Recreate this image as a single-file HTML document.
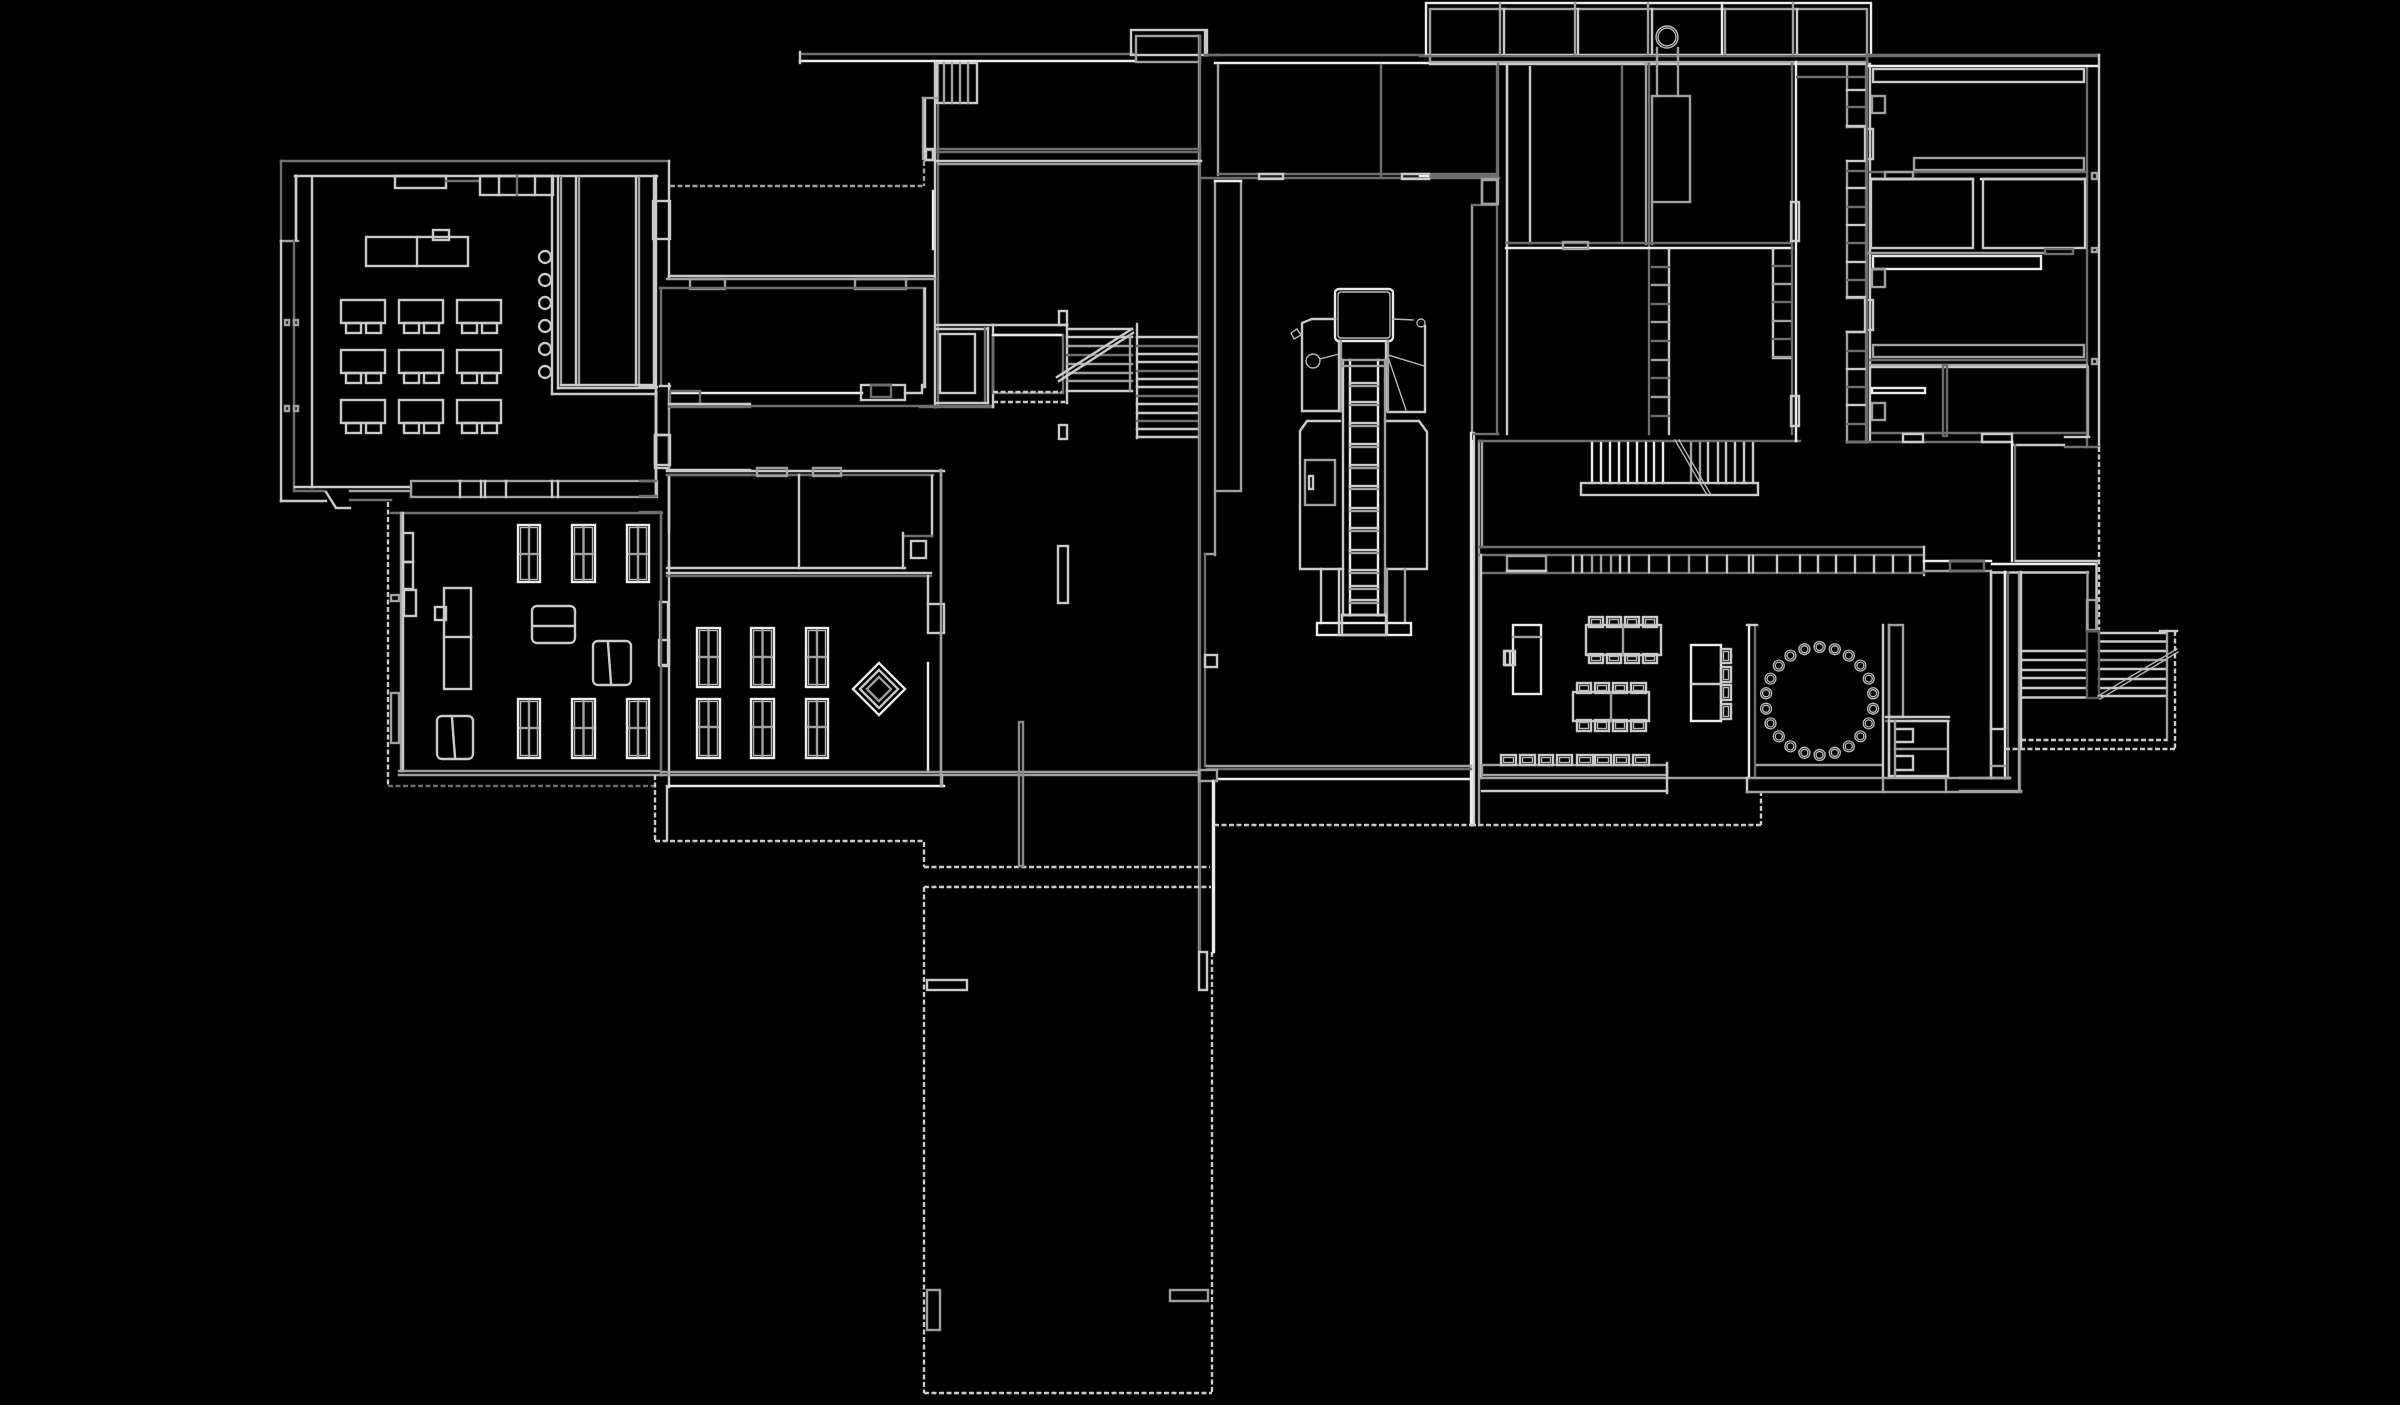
<!DOCTYPE html>
<html><head><meta charset="utf-8"><style>
html,body{margin:0;padding:0;background:#000;width:2400px;height:1405px;overflow:hidden}
svg{display:block}
line,polyline,polygon,rect,circle{fill:none;stroke-width:2.4;stroke-linecap:square}
.l{stroke:#cacaca}
.d{stroke:#6e6e6e}
.m{stroke:#a0a0a0}
.w{stroke:#ececec}
.t{stroke:#b8b8b8;stroke-width:1.4}
.dash{stroke-dasharray:5 2.5;stroke-linecap:butt}
</style></head><body>
<svg width="2400" height="1405" viewBox="0 0 2400 1405">
<line class="d" x1="281.0" y1="161.0" x2="669.0" y2="161.0"/>
<line class="d" x1="281.0" y1="161.0" x2="281.0" y2="241.0"/>
<line class="m" x1="281.0" y1="241.0" x2="298.0" y2="241.0"/>
<line class="l" x1="669.0" y1="161.0" x2="669.0" y2="278.0"/>
<line class="l" x1="295.0" y1="176.0" x2="657.0" y2="176.0"/>
<line class="l" x1="296.0" y1="176.0" x2="296.0" y2="240.0"/>
<line class="l" x1="312.0" y1="177.0" x2="312.0" y2="487.0"/>
<line class="l" x1="656.0" y1="176.0" x2="656.0" y2="388.0"/>
<rect class="l" x="395.0" y="176.0" width="51.0" height="12.0"/>
<line class="d" x1="446.0" y1="181.0" x2="480.0" y2="181.0"/>
<rect class="l" x="480.0" y="176.0" width="73.0" height="19.0"/>
<line class="l" x1="499.0" y1="176.0" x2="499.0" y2="195.0"/>
<line class="d" x1="517.0" y1="176.0" x2="517.0" y2="195.0"/>
<line class="l" x1="535.0" y1="176.0" x2="535.0" y2="195.0"/>
<line class="l" x1="552.0" y1="176.0" x2="552.0" y2="394.0"/>
<line class="l" x1="552.0" y1="394.0" x2="656.0" y2="394.0"/>
<line class="l" x1="558.0" y1="176.0" x2="558.0" y2="388.0"/>
<line class="l" x1="558.0" y1="388.0" x2="656.0" y2="388.0"/>
<line class="m" x1="561.0" y1="177.0" x2="561.0" y2="385.0"/>
<line class="l" x1="576.0" y1="177.0" x2="576.0" y2="385.0"/>
<line class="m" x1="579.0" y1="177.0" x2="579.0" y2="385.0"/>
<line class="l" x1="636.0" y1="177.0" x2="636.0" y2="385.0"/>
<line class="m" x1="639.0" y1="177.0" x2="639.0" y2="385.0"/>
<line class="l" x1="654.0" y1="177.0" x2="654.0" y2="385.0"/>
<line class="l" x1="561.0" y1="385.0" x2="654.0" y2="385.0"/>
<rect class="l" x="366.0" y="237.0" width="102.0" height="29.0"/>
<line class="l" x1="417.0" y1="237.0" x2="417.0" y2="266.0"/>
<rect class="l" x="433.0" y="230.0" width="16.0" height="10.0"/>
<circle class="l" cx="545.0" cy="257.0" r="6.0"/>
<circle class="l" cx="545.0" cy="280.0" r="6.0"/>
<circle class="l" cx="545.0" cy="303.0" r="6.0"/>
<circle class="l" cx="545.0" cy="326.0" r="6.0"/>
<circle class="l" cx="545.0" cy="349.0" r="6.0"/>
<circle class="l" cx="545.0" cy="372.0" r="6.0"/>
<rect class="l" x="341.0" y="300.0" width="44.0" height="23.0"/>
<rect class="l" x="346.0" y="323.0" width="15.0" height="10.0"/>
<rect class="l" x="366.0" y="323.0" width="15.0" height="10.0"/>
<rect class="l" x="341.0" y="350.0" width="44.0" height="23.0"/>
<rect class="l" x="346.0" y="373.0" width="15.0" height="10.0"/>
<rect class="l" x="366.0" y="373.0" width="15.0" height="10.0"/>
<rect class="l" x="341.0" y="400.0" width="44.0" height="23.0"/>
<rect class="l" x="346.0" y="423.0" width="15.0" height="10.0"/>
<rect class="l" x="366.0" y="423.0" width="15.0" height="10.0"/>
<rect class="l" x="399.0" y="300.0" width="44.0" height="23.0"/>
<rect class="l" x="404.0" y="323.0" width="15.0" height="10.0"/>
<rect class="l" x="424.0" y="323.0" width="15.0" height="10.0"/>
<rect class="l" x="399.0" y="350.0" width="44.0" height="23.0"/>
<rect class="l" x="404.0" y="373.0" width="15.0" height="10.0"/>
<rect class="l" x="424.0" y="373.0" width="15.0" height="10.0"/>
<rect class="l" x="399.0" y="400.0" width="44.0" height="23.0"/>
<rect class="l" x="404.0" y="423.0" width="15.0" height="10.0"/>
<rect class="l" x="424.0" y="423.0" width="15.0" height="10.0"/>
<rect class="l" x="457.0" y="300.0" width="44.0" height="23.0"/>
<rect class="l" x="462.0" y="323.0" width="15.0" height="10.0"/>
<rect class="l" x="482.0" y="323.0" width="15.0" height="10.0"/>
<rect class="l" x="457.0" y="350.0" width="44.0" height="23.0"/>
<rect class="l" x="462.0" y="373.0" width="15.0" height="10.0"/>
<rect class="l" x="482.0" y="373.0" width="15.0" height="10.0"/>
<rect class="l" x="457.0" y="400.0" width="44.0" height="23.0"/>
<rect class="l" x="462.0" y="423.0" width="15.0" height="10.0"/>
<rect class="l" x="482.0" y="423.0" width="15.0" height="10.0"/>
<line class="l" x1="281.0" y1="241.0" x2="281.0" y2="501.0"/>
<line class="d" x1="294.0" y1="241.0" x2="294.0" y2="491.0"/>
<line class="l" x1="296.0" y1="176.0" x2="296.0" y2="240.0"/>
<line class="l" x1="295.0" y1="487.0" x2="411.0" y2="487.0"/>
<line class="d" x1="294.0" y1="491.0" x2="324.0" y2="491.0"/>
<line class="m" x1="350.0" y1="491.0" x2="411.0" y2="491.0"/>
<line class="l" x1="281.0" y1="501.0" x2="326.0" y2="501.0"/>
<polyline class="l" points="326.0,492.0 336.0,508.0 350.0,508.0"/>
<line class="d" x1="350.0" y1="500.0" x2="391.0" y2="500.0"/>
<rect class="m" x="411.0" y="481.0" width="246.0" height="16.0"/>
<line class="l" x1="460.0" y1="481.0" x2="460.0" y2="497.0"/>
<line class="l" x1="481.0" y1="481.0" x2="481.0" y2="497.0"/>
<line class="l" x1="485.0" y1="481.0" x2="485.0" y2="497.0"/>
<line class="l" x1="506.0" y1="481.0" x2="506.0" y2="497.0"/>
<line class="l" x1="552.0" y1="481.0" x2="552.0" y2="497.0"/>
<line class="l" x1="558.0" y1="481.0" x2="558.0" y2="497.0"/>
<line class="l" x1="656.0" y1="388.0" x2="656.0" y2="496.0"/>
<rect class="l" x="655.0" y="435.0" width="14.0" height="33.0"/>
<line class="m" x1="669.0" y1="408.0" x2="669.0" y2="468.0"/>
<rect class="m" x="285.0" y="320.0" width="4.0" height="5.0"/>
<rect class="m" x="294.0" y="320.0" width="4.0" height="5.0"/>
<rect class="m" x="285.0" y="406.0" width="4.0" height="5.0"/>
<rect class="m" x="294.0" y="406.0" width="4.0" height="5.0"/>
<line class="d" x1="391.0" y1="513.0" x2="662.0" y2="513.0"/>
<line class="l dash" x1="388.0" y1="502.0" x2="388.0" y2="787.0"/>
<line class="m" x1="401.0" y1="513.0" x2="401.0" y2="771.0"/>
<line class="l" x1="403.0" y1="513.0" x2="403.0" y2="771.0"/>
<rect class="l" x="403.0" y="533.0" width="10.0" height="29.0"/>
<rect class="l" x="403.0" y="562.0" width="10.0" height="27.0"/>
<rect class="l" x="404.0" y="590.0" width="12.0" height="26.0"/>
<rect class="m" x="391.0" y="595.0" width="8.0" height="6.0"/>
<rect class="m" x="391.0" y="693.0" width="8.0" height="50.0"/>
<line class="m" x1="399.0" y1="771.0" x2="661.0" y2="771.0"/>
<line class="m" x1="399.0" y1="775.0" x2="661.0" y2="775.0"/>
<line class="d dash" x1="388.0" y1="786.0" x2="655.0" y2="786.0"/>
<line class="d" x1="661.0" y1="513.0" x2="661.0" y2="775.0"/>
<line class="l" x1="669.0" y1="477.0" x2="669.0" y2="787.0"/>
<rect class="l" x="660.0" y="602.0" width="8.0" height="64.0"/>
<rect class="l" x="659.0" y="640.0" width="10.0" height="25.0"/>
<rect class="l" x="444.0" y="588.0" width="27.0" height="101.0"/>
<line class="l" x1="444.0" y1="637.0" x2="471.0" y2="637.0"/>
<rect class="l" x="435.0" y="607.0" width="11.0" height="13.0"/>
<rect class="w" x="518.0" y="525.0" width="22.0" height="57.0"/>
<rect class="t" x="520.5" y="527.5" width="17.0" height="52.0"/>
<line class="m" x1="529.0" y1="527.0" x2="529.0" y2="580.0"/>
<line class="m" x1="520.0" y1="554.0" x2="538.0" y2="554.0"/>
<rect class="w" x="518.0" y="699.0" width="22.0" height="59.0"/>
<rect class="t" x="520.5" y="701.5" width="17.0" height="54.0"/>
<line class="m" x1="529.0" y1="701.0" x2="529.0" y2="756.0"/>
<line class="m" x1="520.0" y1="728.0" x2="538.0" y2="728.0"/>
<rect class="w" x="572.0" y="525.0" width="23.0" height="57.0"/>
<rect class="t" x="574.5" y="527.5" width="18.0" height="52.0"/>
<line class="m" x1="583.5" y1="527.0" x2="583.5" y2="580.0"/>
<line class="m" x1="574.0" y1="554.0" x2="593.0" y2="554.0"/>
<rect class="w" x="572.0" y="699.0" width="23.0" height="59.0"/>
<rect class="t" x="574.5" y="701.5" width="18.0" height="54.0"/>
<line class="m" x1="583.5" y1="701.0" x2="583.5" y2="756.0"/>
<line class="m" x1="574.0" y1="728.0" x2="593.0" y2="728.0"/>
<rect class="w" x="627.0" y="525.0" width="22.0" height="57.0"/>
<rect class="t" x="629.5" y="527.5" width="17.0" height="52.0"/>
<line class="m" x1="638.0" y1="527.0" x2="638.0" y2="580.0"/>
<line class="m" x1="629.0" y1="554.0" x2="647.0" y2="554.0"/>
<rect class="w" x="627.0" y="699.0" width="22.0" height="59.0"/>
<rect class="t" x="629.5" y="701.5" width="17.0" height="54.0"/>
<line class="m" x1="638.0" y1="701.0" x2="638.0" y2="756.0"/>
<line class="m" x1="629.0" y1="728.0" x2="647.0" y2="728.0"/>
<rect class="w" x="697.0" y="628.0" width="23.0" height="59.0"/>
<rect class="t" x="699.5" y="630.5" width="18.0" height="54.0"/>
<line class="m" x1="708.5" y1="630.0" x2="708.5" y2="685.0"/>
<line class="m" x1="699.0" y1="657.0" x2="718.0" y2="657.0"/>
<rect class="w" x="697.0" y="699.0" width="23.0" height="59.0"/>
<rect class="t" x="699.5" y="701.5" width="18.0" height="54.0"/>
<line class="m" x1="708.5" y1="701.0" x2="708.5" y2="756.0"/>
<line class="m" x1="699.0" y1="727.0" x2="718.0" y2="727.0"/>
<rect class="w" x="751.0" y="628.0" width="23.0" height="59.0"/>
<rect class="t" x="753.5" y="630.5" width="18.0" height="54.0"/>
<line class="m" x1="762.5" y1="630.0" x2="762.5" y2="685.0"/>
<line class="m" x1="753.0" y1="657.0" x2="772.0" y2="657.0"/>
<rect class="w" x="751.0" y="699.0" width="23.0" height="59.0"/>
<rect class="t" x="753.5" y="701.5" width="18.0" height="54.0"/>
<line class="m" x1="762.5" y1="701.0" x2="762.5" y2="756.0"/>
<line class="m" x1="753.0" y1="727.0" x2="772.0" y2="727.0"/>
<rect class="w" x="806.0" y="628.0" width="22.0" height="59.0"/>
<rect class="t" x="808.5" y="630.5" width="17.0" height="54.0"/>
<line class="m" x1="817.0" y1="630.0" x2="817.0" y2="685.0"/>
<line class="m" x1="808.0" y1="657.0" x2="826.0" y2="657.0"/>
<rect class="w" x="806.0" y="699.0" width="22.0" height="59.0"/>
<rect class="t" x="808.5" y="701.5" width="17.0" height="54.0"/>
<line class="m" x1="817.0" y1="701.0" x2="817.0" y2="756.0"/>
<line class="m" x1="808.0" y1="727.0" x2="826.0" y2="727.0"/>
<rect class="l" x="532.0" y="606.0" width="43.0" height="37.0" rx="5.0"/>
<line class="l" x1="534.0" y1="626.0" x2="573.0" y2="626.0"/>
<rect class="l" x="593.0" y="641.0" width="38.0" height="44.0" rx="5.0"/>
<line class="l" x1="608.0" y1="643.0" x2="611.0" y2="683.0"/>
<rect class="l" x="437.0" y="716.0" width="36.0" height="43.0" rx="5.0"/>
<line class="l" x1="452.0" y1="718.0" x2="455.0" y2="757.0"/>
<line class="m dash" x1="670.0" y1="186.0" x2="925.0" y2="186.0"/>
<line class="m dash" x1="924.0" y1="161.0" x2="924.0" y2="186.0"/>
<rect class="m" x="925.0" y="150.0" width="8.0" height="10.0"/>
<line class="l" x1="935.0" y1="63.0" x2="935.0" y2="407.0"/>
<line class="d" x1="938.0" y1="63.0" x2="938.0" y2="407.0"/>
<line class="w" x1="933.0" y1="191.0" x2="933.0" y2="249.0"/>
<rect class="l" x="653.0" y="201.0" width="17.0" height="38.0"/>
<line class="l" x1="669.0" y1="276.0" x2="934.0" y2="276.0"/>
<line class="m" x1="667.0" y1="279.0" x2="935.0" y2="279.0"/>
<rect class="m" x="690.0" y="279.0" width="35.0" height="10.0"/>
<rect class="m" x="855.0" y="279.0" width="51.0" height="10.0"/>
<line class="d" x1="660.0" y1="288.0" x2="925.0" y2="288.0"/>
<line class="d" x1="661.0" y1="289.0" x2="661.0" y2="385.0"/>
<line class="m" x1="924.0" y1="289.0" x2="924.0" y2="387.0"/>
<line class="l" x1="660.0" y1="386.0" x2="670.0" y2="386.0"/>
<line class="l" x1="669.0" y1="384.0" x2="669.0" y2="408.0"/>
<line class="w" x1="670.0" y1="393.0" x2="862.0" y2="393.0"/>
<rect class="d" x="670.0" y="391.0" width="30.0" height="14.0"/>
<line class="d" x1="670.0" y1="406.0" x2="993.0" y2="406.0"/>
<rect class="l" x="861.0" y="385.0" width="44.0" height="15.0"/>
<rect class="d" x="871.0" y="385.0" width="20.0" height="12.0"/>
<polyline class="l" points="905.0,393.0 922.0,393.0 922.0,385.0"/>
<line class="l" x1="655.0" y1="176.0" x2="655.0" y2="387.0"/>
<line class="l" x1="640.0" y1="387.0" x2="657.0" y2="387.0"/>
<line class="l" x1="656.0" y1="392.0" x2="656.0" y2="465.0"/>
<rect class="l" x="655.0" y="435.0" width="15.0" height="30.0"/>
<line class="l" x1="937.0" y1="325.0" x2="1067.0" y2="325.0"/>
<line class="l" x1="937.0" y1="329.0" x2="988.0" y2="329.0"/>
<rect class="l" x="940.0" y="334.0" width="35.0" height="59.0"/>
<line class="d" x1="985.0" y1="328.0" x2="985.0" y2="403.0"/>
<line class="l" x1="988.0" y1="328.0" x2="988.0" y2="403.0"/>
<line class="l" x1="937.0" y1="403.0" x2="988.0" y2="403.0"/>
<line class="d" x1="920.0" y1="407.0" x2="993.0" y2="407.0"/>
<line class="l" x1="993.0" y1="325.0" x2="993.0" y2="407.0"/>
<rect class="d" x="993.0" y="335.0" width="70.0" height="58.0"/>
<line class="w" x1="993.0" y1="335.0" x2="1061.0" y2="335.0"/>
<line class="l dash" x1="993.0" y1="392.0" x2="1062.0" y2="392.0"/>
<line class="l dash" x1="993.0" y1="402.0" x2="1067.0" y2="402.0"/>
<line class="l" x1="1067.0" y1="325.0" x2="1067.0" y2="403.0"/>
<rect class="l" x="1059.0" y="311.0" width="8.0" height="14.0"/>
<rect class="l" x="1059.0" y="425.0" width="8.0" height="14.0"/>
<line class="l" x1="925.0" y1="289.0" x2="925.0" y2="387.0"/>
<line class="l" x1="1067.0" y1="329.0" x2="1132.0" y2="329.0"/>
<line class="l" x1="1067.0" y1="337.0" x2="1132.0" y2="337.0"/>
<line class="m" x1="1067.0" y1="346.0" x2="1132.0" y2="346.0"/>
<line class="d" x1="1067.0" y1="355.0" x2="1132.0" y2="355.0"/>
<line class="m" x1="1067.0" y1="364.0" x2="1132.0" y2="364.0"/>
<line class="m" x1="1067.0" y1="373.0" x2="1132.0" y2="373.0"/>
<line class="m" x1="1067.0" y1="381.0" x2="1132.0" y2="381.0"/>
<line class="l" x1="1067.0" y1="391.0" x2="1132.0" y2="391.0"/>
<line class="l" x1="1057.0" y1="377.0" x2="1132.0" y2="329.0"/>
<line class="l" x1="1059.0" y1="381.0" x2="1133.0" y2="333.0"/>
<line class="m" x1="1130.0" y1="336.0" x2="1130.0" y2="391.0"/>
<line class="l" x1="1137.0" y1="324.0" x2="1137.0" y2="438.0"/>
<line class="l" x1="1137.0" y1="337.0" x2="1199.0" y2="337.0"/>
<line class="d" x1="1137.0" y1="346.0" x2="1199.0" y2="346.0"/>
<line class="l" x1="1137.0" y1="354.0" x2="1199.0" y2="354.0"/>
<line class="l" x1="1137.0" y1="362.0" x2="1199.0" y2="362.0"/>
<line class="d" x1="1137.0" y1="371.0" x2="1199.0" y2="371.0"/>
<line class="l" x1="1137.0" y1="379.0" x2="1199.0" y2="379.0"/>
<line class="l" x1="1137.0" y1="387.0" x2="1199.0" y2="387.0"/>
<line class="d" x1="1137.0" y1="396.0" x2="1199.0" y2="396.0"/>
<line class="l" x1="1137.0" y1="404.0" x2="1199.0" y2="404.0"/>
<line class="l" x1="1137.0" y1="413.0" x2="1199.0" y2="413.0"/>
<line class="d" x1="1137.0" y1="421.0" x2="1199.0" y2="421.0"/>
<line class="l" x1="1137.0" y1="429.0" x2="1199.0" y2="429.0"/>
<line class="l" x1="1137.0" y1="437.0" x2="1199.0" y2="437.0"/>
<line class="d" x1="800.0" y1="54.0" x2="1133.0" y2="54.0"/>
<line class="w" x1="800.0" y1="61.0" x2="1135.0" y2="61.0"/>
<line class="l" x1="800.0" y1="52.0" x2="800.0" y2="63.0"/>
<rect class="l" x="1131.0" y="30.0" width="76.0" height="25.0"/>
<rect class="m" x="1136.0" y="36.0" width="64.0" height="26.0"/>
<line class="d" x1="1205.0" y1="55.0" x2="1220.0" y2="55.0"/>
<line class="m" x1="1199.0" y1="36.0" x2="1199.0" y2="950.0"/>
<line class="d" x1="1200.0" y1="36.0" x2="1200.0" y2="950.0"/>
<line class="d" x1="937.0" y1="149.0" x2="1200.0" y2="149.0"/>
<line class="d" x1="937.0" y1="152.0" x2="1200.0" y2="152.0"/>
<line class="l" x1="937.0" y1="161.0" x2="1201.0" y2="161.0"/>
<line class="m" x1="938.0" y1="164.0" x2="1199.0" y2="164.0"/>
<rect class="l" x="937.0" y="63.0" width="40.0" height="40.0"/>
<line class="m" x1="944.0" y1="63.0" x2="944.0" y2="103.0"/>
<line class="m" x1="952.0" y1="63.0" x2="952.0" y2="103.0"/>
<line class="m" x1="960.0" y1="63.0" x2="960.0" y2="103.0"/>
<line class="m" x1="968.0" y1="63.0" x2="968.0" y2="103.0"/>
<line class="m" x1="923.0" y1="98.0" x2="923.0" y2="159.0"/>
<line class="m" x1="923.0" y1="98.0" x2="937.0" y2="98.0"/>
<line class="l" x1="925.0" y1="100.0" x2="925.0" y2="158.0"/>
<rect class="l" x="926.0" y="149.0" width="7.0" height="11.0"/>
<line class="l" x1="667.0" y1="471.0" x2="944.0" y2="471.0"/>
<line class="d" x1="667.0" y1="475.0" x2="933.0" y2="475.0"/>
<rect class="m" x="757.0" y="468.0" width="30.0" height="8.0"/>
<rect class="m" x="813.0" y="468.0" width="28.0" height="8.0"/>
<line class="l" x1="669.0" y1="476.0" x2="669.0" y2="532.0"/>
<line class="l" x1="669.0" y1="561.0" x2="669.0" y2="568.0"/>
<line class="l" x1="799.0" y1="475.0" x2="799.0" y2="568.0"/>
<line class="l" x1="932.0" y1="476.0" x2="932.0" y2="536.0"/>
<line class="d" x1="903.0" y1="536.0" x2="932.0" y2="536.0"/>
<line class="l" x1="903.0" y1="533.0" x2="903.0" y2="568.0"/>
<line class="l" x1="667.0" y1="568.0" x2="905.0" y2="568.0"/>
<rect class="l" x="911.0" y="541.0" width="15.0" height="17.0"/>
<line class="m" x1="941.0" y1="471.0" x2="941.0" y2="603.0"/>
<line class="l" x1="667.0" y1="573.0" x2="931.0" y2="573.0"/>
<line class="d" x1="667.0" y1="576.0" x2="931.0" y2="576.0"/>
<line class="l" x1="928.0" y1="576.0" x2="928.0" y2="605.0"/>
<rect class="l" x="928.0" y="604.0" width="16.0" height="29.0"/>
<line class="w" x1="928.0" y1="663.0" x2="928.0" y2="771.0"/>
<line class="d" x1="941.0" y1="633.0" x2="941.0" y2="771.0"/>
<line class="d" x1="661.0" y1="512.0" x2="661.0" y2="771.0"/>
<line class="l" x1="656.0" y1="392.0" x2="656.0" y2="496.0"/>
<line class="d" x1="640.0" y1="481.0" x2="656.0" y2="481.0"/>
<line class="d" x1="640.0" y1="496.0" x2="656.0" y2="496.0"/>
<line class="d" x1="640.0" y1="512.0" x2="661.0" y2="512.0"/>
<line class="l" x1="667.0" y1="470.0" x2="750.0" y2="470.0"/>
<line class="d" x1="667.0" y1="475.0" x2="750.0" y2="475.0"/>
<line class="l" x1="669.0" y1="404.0" x2="750.0" y2="404.0"/>
<line class="d" x1="669.0" y1="407.0" x2="750.0" y2="407.0"/>
<polygon class="w" points="879.0,663.0 905.0,689.0 879.0,715.0 853.0,689.0"/>
<polygon class="l" points="879.0,670.0 898.0,689.0 879.0,708.0 860.0,689.0"/>
<polygon class="m" points="879.0,677.0 891.0,689.0 879.0,701.0 867.0,689.0"/>
<line class="m" x1="661.0" y1="772.0" x2="1199.0" y2="772.0"/>
<line class="m" x1="661.0" y1="775.0" x2="1199.0" y2="775.0"/>
<line class="w" x1="670.0" y1="786.0" x2="944.0" y2="786.0"/>
<line class="l" x1="942.0" y1="775.0" x2="942.0" y2="786.0"/>
<line class="l dash" x1="655.0" y1="775.0" x2="655.0" y2="842.0"/>
<line class="l dash" x1="655.0" y1="841.0" x2="924.0" y2="841.0"/>
<line class="l" x1="667.0" y1="786.0" x2="667.0" y2="840.0"/>
<line class="l dash" x1="924.0" y1="842.0" x2="924.0" y2="867.0"/>
<line class="l dash" x1="924.0" y1="867.0" x2="1210.0" y2="867.0"/>
<rect x="1019" y="722" width="4" height="144" fill="#3a3a3a" stroke="#8a8a8a" stroke-width="1"/>
<line class="l dash" x1="924.0" y1="887.0" x2="1211.0" y2="887.0"/>
<line class="l dash" x1="924.0" y1="887.0" x2="924.0" y2="1393.0"/>
<line class="l dash" x1="1212.0" y1="952.0" x2="1212.0" y2="1393.0"/>
<line class="l dash" x1="924.0" y1="1393.0" x2="1212.0" y2="1393.0"/>
<rect class="l" x="927.0" y="980.0" width="40.0" height="10.0"/>
<line class="w" x1="1214.0" y1="781.0" x2="1214.0" y2="952.0"/>
<rect class="l" x="1199.0" y="952.0" width="8.0" height="38.0"/>
<rect class="m" x="927.0" y="1290.0" width="13.0" height="40.0"/>
<rect class="m" x="1170.0" y="1290.0" width="38.0" height="11.0"/>
<rect class="l" x="1058.0" y="546.0" width="10.0" height="57.0"/>
<line class="m" x1="941.0" y1="470.0" x2="941.0" y2="786.0"/>
<line class="l" x1="1205.0" y1="31.0" x2="1205.0" y2="55.0"/>
<line class="d" x1="1205.0" y1="55.0" x2="1429.0" y2="55.0"/>
<line class="w" x1="1215.0" y1="63.0" x2="1431.0" y2="63.0"/>
<line class="m" x1="1218.0" y1="65.0" x2="1218.0" y2="175.0"/>
<line class="d" x1="1381.0" y1="65.0" x2="1381.0" y2="176.0"/>
<line class="d" x1="1497.0" y1="65.0" x2="1497.0" y2="176.0"/>
<line class="m" x1="1507.0" y1="64.0" x2="1507.0" y2="244.0"/>
<line class="d" x1="1218.0" y1="174.0" x2="1497.0" y2="174.0"/>
<line class="d" x1="1200.0" y1="178.0" x2="1499.0" y2="178.0"/>
<rect class="l" x="1259.0" y="174.0" width="24.0" height="5.0"/>
<rect class="l" x="1402.0" y="174.0" width="27.0" height="5.0"/>
<rect class="m" x="1215.0" y="181.0" width="26.0" height="310.0"/>
<line class="w" x1="1215.0" y1="181.0" x2="1241.0" y2="181.0"/>
<line class="m" x1="1215.0" y1="491.0" x2="1215.0" y2="555.0"/>
<line class="m" x1="1205.0" y1="554.0" x2="1215.0" y2="554.0"/>
<line class="d" x1="1205.0" y1="554.0" x2="1205.0" y2="766.0"/>
<rect class="m" x="1482.0" y="180.0" width="15.0" height="24.0"/>
<line class="m" x1="1472.0" y1="205.0" x2="1472.0" y2="433.0"/>
<line class="d" x1="1472.0" y1="205.0" x2="1497.0" y2="205.0"/>
<line class="d" x1="1497.0" y1="205.0" x2="1497.0" y2="434.0"/>
<line class="l" x1="1474.0" y1="433.0" x2="1474.0" y2="825.0"/>
<line class="w" x1="1471.0" y1="433.0" x2="1471.0" y2="825.0"/>
<line class="m" x1="1479.0" y1="441.0" x2="1479.0" y2="825.0"/>
<line class="m" x1="1482.0" y1="441.0" x2="1482.0" y2="547.0"/>
<line class="d" x1="1479.0" y1="441.0" x2="1800.0" y2="441.0"/>
<line class="d" x1="1474.0" y1="434.0" x2="1498.0" y2="434.0"/>
<line class="d" x1="1479.0" y1="547.0" x2="1924.0" y2="547.0"/>
<line class="d" x1="1479.0" y1="555.0" x2="1924.0" y2="555.0"/>
<line class="l" x1="1924.0" y1="547.0" x2="1924.0" y2="575.0"/>
<rect class="w" x="1426.0" y="3.0" width="445.0" height="52.0"/>
<rect class="m" x="1430.0" y="9.0" width="437.0" height="53.0"/>
<line class="m" x1="1500.0" y1="3.0" x2="1500.0" y2="55.0"/>
<line class="l" x1="1504.0" y1="9.0" x2="1504.0" y2="55.0"/>
<line class="m" x1="1575.0" y1="3.0" x2="1575.0" y2="55.0"/>
<line class="l" x1="1578.0" y1="9.0" x2="1578.0" y2="55.0"/>
<line class="m" x1="1648.0" y1="3.0" x2="1648.0" y2="55.0"/>
<line class="l" x1="1652.0" y1="9.0" x2="1652.0" y2="55.0"/>
<line class="w" x1="1722.0" y1="3.0" x2="1722.0" y2="55.0"/>
<line class="m" x1="1725.0" y1="9.0" x2="1725.0" y2="55.0"/>
<line class="m" x1="1793.0" y1="3.0" x2="1793.0" y2="55.0"/>
<line class="l" x1="1797.0" y1="9.0" x2="1797.0" y2="55.0"/>
<line class="d" x1="1420.0" y1="56.0" x2="2099.0" y2="56.0"/>
<line class="l" x1="1430.0" y1="64.0" x2="1870.0" y2="64.0"/>
<circle class="t" cx="1667.0" cy="37.0" r="11.0"/>
<circle class="t" cx="1667.0" cy="37.0" r="9.0"/>
<line class="m" x1="1657.0" y1="48.0" x2="1657.0" y2="96.0"/>
<line class="m" x1="1678.0" y1="48.0" x2="1678.0" y2="96.0"/>
<rect class="m" x="1652.0" y="96.0" width="38.0" height="106.0"/>
<line class="d" x1="1498.0" y1="64.0" x2="1498.0" y2="175.0"/>
<line class="d" x1="1420.0" y1="176.0" x2="1498.0" y2="176.0"/>
<line class="w" x1="1420.0" y1="176.0" x2="1428.0" y2="176.0"/>
<rect class="m" x="1482.0" y="179.0" width="16.0" height="25.0"/>
<line class="l" x1="1507.0" y1="64.0" x2="1507.0" y2="434.0"/>
<line class="l" x1="1530.0" y1="67.0" x2="1530.0" y2="243.0"/>
<line class="d" x1="1622.0" y1="66.0" x2="1622.0" y2="243.0"/>
<line class="m" x1="1646.0" y1="64.0" x2="1646.0" y2="244.0"/>
<line class="d" x1="1649.0" y1="64.0" x2="1649.0" y2="434.0"/>
<line class="m" x1="1652.0" y1="202.0" x2="1652.0" y2="244.0"/>
<line class="d" x1="1506.0" y1="243.0" x2="1792.0" y2="243.0"/>
<line class="w" x1="1506.0" y1="248.0" x2="1792.0" y2="248.0"/>
<rect class="m" x="1563.0" y="242.0" width="25.0" height="7.0"/>
<line class="d" x1="1792.0" y1="64.0" x2="1792.0" y2="434.0"/>
<line class="w" x1="1796.0" y1="62.0" x2="1796.0" y2="441.0"/>
<rect class="l" x="1791.0" y="202.0" width="8.0" height="39.0"/>
<rect class="l" x="1791.0" y="396.0" width="8.0" height="30.0"/>
<line class="l" x1="1669.0" y1="249.0" x2="1669.0" y2="434.0"/>
<polyline class="l" points="1773.0,249.0 1773.0,358.0 1790.0,358.0"/>
<line class="d" x1="1652.0" y1="267.0" x2="1669.0" y2="267.0"/>
<line class="m" x1="1652.0" y1="285.0" x2="1669.0" y2="285.0"/>
<line class="d" x1="1652.0" y1="304.0" x2="1669.0" y2="304.0"/>
<line class="m" x1="1652.0" y1="322.0" x2="1669.0" y2="322.0"/>
<line class="d" x1="1652.0" y1="341.0" x2="1669.0" y2="341.0"/>
<line class="m" x1="1652.0" y1="360.0" x2="1669.0" y2="360.0"/>
<line class="d" x1="1652.0" y1="378.0" x2="1669.0" y2="378.0"/>
<line class="m" x1="1652.0" y1="397.0" x2="1669.0" y2="397.0"/>
<line class="d" x1="1652.0" y1="416.0" x2="1669.0" y2="416.0"/>
<line class="d" x1="1773.0" y1="266.0" x2="1790.0" y2="266.0"/>
<line class="m" x1="1773.0" y1="284.0" x2="1790.0" y2="284.0"/>
<line class="d" x1="1773.0" y1="302.0" x2="1790.0" y2="302.0"/>
<line class="m" x1="1773.0" y1="321.0" x2="1790.0" y2="321.0"/>
<line class="d" x1="1773.0" y1="339.0" x2="1790.0" y2="339.0"/>
<line class="m" x1="1773.0" y1="357.0" x2="1790.0" y2="357.0"/>
<line class="m" x1="1847.0" y1="66.0" x2="1847.0" y2="127.0"/>
<line class="m" x1="1847.0" y1="161.0" x2="1847.0" y2="298.0"/>
<line class="m" x1="1847.0" y1="332.0" x2="1847.0" y2="442.0"/>
<line class="d" x1="1866.0" y1="66.0" x2="1866.0" y2="442.0"/>
<line class="m" x1="1847.0" y1="127.0" x2="1866.0" y2="127.0"/>
<line class="m" x1="1847.0" y1="298.0" x2="1866.0" y2="298.0"/>
<line class="m" x1="1847.0" y1="332.0" x2="1866.0" y2="332.0"/>
<line class="d" x1="1847.0" y1="77.0" x2="1866.0" y2="77.0"/>
<line class="l" x1="1847.0" y1="90.0" x2="1866.0" y2="90.0"/>
<line class="d" x1="1847.0" y1="107.0" x2="1866.0" y2="107.0"/>
<line class="l" x1="1847.0" y1="126.0" x2="1866.0" y2="126.0"/>
<line class="l" x1="1847.0" y1="161.0" x2="1866.0" y2="161.0"/>
<line class="d" x1="1847.0" y1="171.0" x2="1866.0" y2="171.0"/>
<line class="l" x1="1847.0" y1="188.0" x2="1866.0" y2="188.0"/>
<line class="d" x1="1847.0" y1="207.0" x2="1866.0" y2="207.0"/>
<line class="l" x1="1847.0" y1="225.0" x2="1866.0" y2="225.0"/>
<line class="d" x1="1847.0" y1="243.0" x2="1866.0" y2="243.0"/>
<line class="l" x1="1847.0" y1="262.0" x2="1866.0" y2="262.0"/>
<line class="d" x1="1847.0" y1="280.0" x2="1866.0" y2="280.0"/>
<line class="l" x1="1847.0" y1="297.0" x2="1866.0" y2="297.0"/>
<line class="l" x1="1847.0" y1="332.0" x2="1866.0" y2="332.0"/>
<line class="d" x1="1847.0" y1="351.0" x2="1866.0" y2="351.0"/>
<line class="l" x1="1847.0" y1="369.0" x2="1866.0" y2="369.0"/>
<line class="d" x1="1847.0" y1="387.0" x2="1866.0" y2="387.0"/>
<line class="l" x1="1847.0" y1="405.0" x2="1866.0" y2="405.0"/>
<line class="d" x1="1847.0" y1="424.0" x2="1866.0" y2="424.0"/>
<line class="l" x1="1847.0" y1="442.0" x2="1866.0" y2="442.0"/>
<rect class="l" x="1865.0" y="129.0" width="8.0" height="30.0"/>
<rect class="l" x="1865.0" y="300.0" width="8.0" height="30.0"/>
<line class="w" x1="1592.0" y1="443.0" x2="1592.0" y2="483.0"/>
<line class="w" x1="1601.0" y1="443.0" x2="1601.0" y2="483.0"/>
<line class="w" x1="1610.0" y1="443.0" x2="1610.0" y2="483.0"/>
<line class="w" x1="1619.0" y1="443.0" x2="1619.0" y2="483.0"/>
<line class="w" x1="1628.0" y1="443.0" x2="1628.0" y2="483.0"/>
<line class="w" x1="1637.0" y1="443.0" x2="1637.0" y2="483.0"/>
<line class="w" x1="1646.0" y1="443.0" x2="1646.0" y2="483.0"/>
<line class="w" x1="1654.0" y1="443.0" x2="1654.0" y2="483.0"/>
<line class="w" x1="1663.0" y1="443.0" x2="1663.0" y2="483.0"/>
<line class="m" x1="1691.0" y1="443.0" x2="1691.0" y2="483.0"/>
<line class="m" x1="1700.0" y1="443.0" x2="1700.0" y2="483.0"/>
<line class="l" x1="1708.0" y1="443.0" x2="1708.0" y2="483.0"/>
<line class="l" x1="1718.0" y1="443.0" x2="1718.0" y2="483.0"/>
<line class="l" x1="1726.0" y1="443.0" x2="1726.0" y2="483.0"/>
<line class="l" x1="1735.0" y1="443.0" x2="1735.0" y2="483.0"/>
<line class="l" x1="1744.0" y1="443.0" x2="1744.0" y2="483.0"/>
<line class="l" x1="1753.0" y1="443.0" x2="1753.0" y2="483.0"/>
<rect class="l" x="1581.0" y="483.0" width="177.0" height="12.0"/>
<line class="t" x1="1675.0" y1="440.0" x2="1707.0" y2="495.0"/>
<line class="t" x1="1679.0" y1="440.0" x2="1711.0" y2="495.0"/>
<line class="d" x1="1867.0" y1="55.0" x2="2099.0" y2="55.0"/>
<line class="l" x1="2099.0" y1="55.0" x2="2099.0" y2="447.0"/>
<line class="d" x1="2087.0" y1="66.0" x2="2087.0" y2="447.0"/>
<line class="d" x1="1867.0" y1="55.0" x2="1867.0" y2="442.0"/>
<line class="l" x1="1870.0" y1="66.0" x2="1870.0" y2="441.0"/>
<line class="w" x1="1869.0" y1="66.0" x2="2097.0" y2="66.0"/>
<rect class="l" x="1873.0" y="69.0" width="211.0" height="13.0"/>
<rect class="m" x="1872.0" y="96.0" width="13.0" height="17.0"/>
<rect class="m" x="1914.0" y="158.0" width="170.0" height="12.0"/>
<line class="d" x1="1870.0" y1="172.0" x2="2087.0" y2="172.0"/>
<line class="w" x1="1871.0" y1="179.0" x2="1973.0" y2="179.0"/>
<line class="w" x1="1981.0" y1="179.0" x2="2085.0" y2="179.0"/>
<rect class="m" x="1885.0" y="172.0" width="28.0" height="7.0"/>
<rect class="m" x="2092.0" y="173.0" width="5.0" height="6.0"/>
<rect class="l" x="1871.0" y="179.0" width="102.0" height="69.0"/>
<rect class="l" x="1983.0" y="179.0" width="102.0" height="69.0"/>
<line class="m" x1="1869.0" y1="253.0" x2="2045.0" y2="253.0"/>
<rect class="d" x="2045.0" y="249.0" width="28.0" height="5.0"/>
<rect class="w" x="1873.0" y="256.0" width="168.0" height="13.0"/>
<rect class="m" x="1872.0" y="269.0" width="13.0" height="18.0"/>
<rect class="m" x="1873.0" y="345.0" width="211.0" height="12.0"/>
<line class="d" x1="1870.0" y1="360.0" x2="2087.0" y2="360.0"/>
<line class="m" x1="1870.0" y1="365.0" x2="2087.0" y2="365.0"/>
<line class="l" x1="1872.0" y1="367.0" x2="2085.0" y2="367.0"/>
<rect x="1943" y="365" width="4" height="71" fill="#3c3c3c" stroke="#6a6a6a" stroke-width="1"/>
<rect class="w" x="1872.0" y="388.0" width="53.0" height="5.0"/>
<rect class="m" x="1872.0" y="403.0" width="13.0" height="17.0"/>
<line class="d" x1="1872.0" y1="433.0" x2="2087.0" y2="433.0"/>
<line class="d" x1="1847.0" y1="442.0" x2="2012.0" y2="442.0"/>
<rect class="l" x="1903.0" y="434.0" width="20.0" height="8.0"/>
<rect class="l" x="1982.0" y="434.0" width="30.0" height="8.0"/>
<line class="m" x1="2088.0" y1="367.0" x2="2088.0" y2="436.0"/>
<line class="l" x1="2065.0" y1="437.0" x2="2089.0" y2="437.0"/>
<line class="l" x1="2013.0" y1="445.0" x2="2064.0" y2="445.0"/>
<line class="d" x1="2065.0" y1="447.0" x2="2099.0" y2="447.0"/>
<line class="w" x1="2012.0" y1="442.0" x2="2012.0" y2="561.0"/>
<line class="d" x1="2015.0" y1="445.0" x2="2015.0" y2="561.0"/>
<line class="l dash" x1="2099.0" y1="447.0" x2="2099.0" y2="630.0"/>
<rect class="m" x="2092.0" y="248.0" width="5.0" height="4.0"/>
<rect class="m" x="2092.0" y="359.0" width="5.0" height="5.0"/>
<line class="w" x1="1924.0" y1="561.0" x2="1991.0" y2="561.0"/>
<line class="m" x1="1924.0" y1="571.0" x2="1991.0" y2="571.0"/>
<rect class="d" x="1950.0" y="561.0" width="34.0" height="10.0"/>
<line class="l" x1="2016.0" y1="561.0" x2="2097.0" y2="561.0"/>
<line class="w" x1="1992.0" y1="564.0" x2="2096.0" y2="564.0"/>
<line class="l" x1="1992.0" y1="572.5" x2="2088.0" y2="572.5"/>
<line class="m" x1="1991.0" y1="571.0" x2="1991.0" y2="778.0"/>
<line class="w" x1="2005.0" y1="572.0" x2="2005.0" y2="778.0"/>
<line class="d" x1="2008.0" y1="572.0" x2="2008.0" y2="778.0"/>
<line class="m" x1="2019.0" y1="572.0" x2="2019.0" y2="749.0"/>
<line class="l" x1="2021.0" y1="572.0" x2="2021.0" y2="749.0"/>
<line class="m" x1="2087.5" y1="572.0" x2="2087.5" y2="630.0"/>
<line class="l" x1="2096.5" y1="564.0" x2="2096.5" y2="630.0"/>
<rect class="m" x="2087.0" y="600.0" width="10.0" height="30.0"/>
<line class="l" x1="2087.0" y1="631.0" x2="2099.0" y2="631.0"/>
<rect class="w" x="1335.0" y="289.0" width="58.0" height="52.0" rx="4.0"/>
<rect class="t" x="1338.0" y="292.0" width="52.0" height="46.0" rx="3.0"/>
<polyline class="l" points="1335.0,319.0 1312.0,319.0 1302.0,323.0 1302.0,411.0 1340.0,411.0"/>
<polygon class="t" points="1291.0,333.0 1297.0,329.0 1301.0,335.0 1294.0,339.0"/>
<circle class="t" cx="1313.0" cy="361.0" r="7.0"/>
<line class="t" x1="1320.0" y1="359.0" x2="1339.0" y2="354.0"/>
<polyline class="t" points="1393.0,319.0 1413.0,320.0"/>
<circle class="t" cx="1421.0" cy="323.0" r="4.0"/>
<polyline class="l" points="1425.0,326.0 1425.0,412.0 1388.0,412.0"/>
<line class="t" x1="1388.0" y1="355.0" x2="1424.0" y2="366.0"/>
<line class="t" x1="1389.0" y1="360.0" x2="1406.0" y2="410.0"/>
<line class="l" x1="1339.0" y1="341.0" x2="1339.0" y2="411.0"/>
<line class="m" x1="1341.0" y1="341.0" x2="1341.0" y2="411.0"/>
<line class="l" x1="1386.0" y1="341.0" x2="1386.0" y2="411.0"/>
<line class="m" x1="1388.0" y1="341.0" x2="1388.0" y2="411.0"/>
<polyline class="l" points="1340.0,421.0 1307.0,421.0 1300.0,431.0 1300.0,569.0 1343.0,569.0"/>
<polyline class="l" points="1386.0,421.0 1419.0,421.0 1427.0,432.0 1427.0,569.0 1386.0,569.0"/>
<rect class="m" x="1305.0" y="460.0" width="30.0" height="45.0"/>
<rect class="l" x="1309.0" y="476.0" width="4.0" height="13.0"/>
<line class="l" x1="1343.0" y1="360.0" x2="1343.0" y2="615.0"/>
<line class="w" x1="1350.0" y1="360.0" x2="1350.0" y2="615.0"/>
<line class="w" x1="1378.0" y1="360.0" x2="1378.0" y2="615.0"/>
<line class="m" x1="1385.0" y1="360.0" x2="1385.0" y2="615.0"/>
<rect class="m" x="1342.0" y="360.0" width="44.0" height="6.0"/>
<line class="w" x1="1342.0" y1="615.0" x2="1386.0" y2="615.0"/>
<line class="l" x1="1321.0" y1="569.0" x2="1321.0" y2="623.0"/>
<line class="l" x1="1339.0" y1="569.0" x2="1339.0" y2="623.0"/>
<line class="m" x1="1387.0" y1="569.0" x2="1387.0" y2="623.0"/>
<line class="m" x1="1405.0" y1="569.0" x2="1405.0" y2="623.0"/>
<rect class="w" x="1317.0" y="623.0" width="94.0" height="12.0"/>
<line class="l" x1="1339.0" y1="623.0" x2="1339.0" y2="635.0"/>
<line class="l" x1="1387.0" y1="623.0" x2="1387.0" y2="635.0"/>
<rect class="l" x="1342.0" y="615.0" width="44.0" height="20.0"/>
<line class="l" x1="1350.0" y1="383.0" x2="1378.0" y2="383.0"/>
<line class="m" x1="1350.0" y1="386.0" x2="1378.0" y2="386.0"/>
<line class="l" x1="1350.0" y1="402.0" x2="1378.0" y2="402.0"/>
<line class="m" x1="1350.0" y1="405.0" x2="1378.0" y2="405.0"/>
<line class="l" x1="1350.0" y1="423.0" x2="1378.0" y2="423.0"/>
<line class="m" x1="1350.0" y1="426.0" x2="1378.0" y2="426.0"/>
<line class="l" x1="1350.0" y1="444.0" x2="1378.0" y2="444.0"/>
<line class="m" x1="1350.0" y1="447.0" x2="1378.0" y2="447.0"/>
<line class="l" x1="1350.0" y1="465.0" x2="1378.0" y2="465.0"/>
<line class="m" x1="1350.0" y1="468.0" x2="1378.0" y2="468.0"/>
<line class="l" x1="1350.0" y1="486.0" x2="1378.0" y2="486.0"/>
<line class="m" x1="1350.0" y1="489.0" x2="1378.0" y2="489.0"/>
<line class="l" x1="1350.0" y1="508.0" x2="1378.0" y2="508.0"/>
<line class="m" x1="1350.0" y1="511.0" x2="1378.0" y2="511.0"/>
<line class="l" x1="1350.0" y1="528.0" x2="1378.0" y2="528.0"/>
<line class="m" x1="1350.0" y1="531.0" x2="1378.0" y2="531.0"/>
<line class="l" x1="1350.0" y1="550.0" x2="1378.0" y2="550.0"/>
<line class="m" x1="1350.0" y1="553.0" x2="1378.0" y2="553.0"/>
<line class="l" x1="1350.0" y1="570.0" x2="1378.0" y2="570.0"/>
<line class="m" x1="1350.0" y1="573.0" x2="1378.0" y2="573.0"/>
<line class="l" x1="1350.0" y1="586.0" x2="1378.0" y2="586.0"/>
<line class="m" x1="1350.0" y1="589.0" x2="1378.0" y2="589.0"/>
<line class="l" x1="1350.0" y1="600.0" x2="1378.0" y2="600.0"/>
<line class="m" x1="1350.0" y1="603.0" x2="1378.0" y2="603.0"/>
<line class="d" x1="1481.0" y1="573.0" x2="1924.0" y2="573.0"/>
<rect class="m" x="1507.0" y="556.0" width="39.0" height="15.0"/>
<line class="l" x1="1507.0" y1="571.0" x2="1546.0" y2="571.0"/>
<line class="l" x1="1481.0" y1="555.0" x2="1481.0" y2="778.0"/>
<line class="w" x1="1472.0" y1="441.0" x2="1472.0" y2="825.0"/>
<rect class="w" x="1513.0" y="625.0" width="28.0" height="69.0"/>
<line class="m" x1="1513.0" y1="637.0" x2="1541.0" y2="637.0"/>
<rect class="l" x="1505.0" y="651.0" width="10.0" height="14.0"/>
<rect class="l" x="1586.0" y="625.0" width="75.0" height="30.0"/>
<line class="m" x1="1623.0" y1="625.0" x2="1623.0" y2="655.0"/>
<rect class="l" x="1573.0" y="692.0" width="76.0" height="29.0"/>
<line class="m" x1="1611.0" y1="692.0" x2="1611.0" y2="721.0"/>
<rect class="w" x="1691.0" y="645.0" width="30.0" height="76.0"/>
<line class="l" x1="1691.0" y1="684.0" x2="1721.0" y2="684.0"/>
<rect class="m" x="1482.0" y="765.0" width="185.0" height="10.0"/>
<line class="m" x1="1481.0" y1="778.0" x2="2010.0" y2="778.0"/>
<line class="l" x1="1482.0" y1="791.0" x2="1667.0" y2="791.0"/>
<line class="l" x1="1667.0" y1="763.0" x2="1667.0" y2="793.0"/>
<line class="l dash" x1="1471.0" y1="825.0" x2="1761.0" y2="825.0"/>
<line class="l dash" x1="1761.0" y1="791.0" x2="1761.0" y2="825.0"/>
<line class="l" x1="1747.0" y1="778.0" x2="1747.0" y2="792.0"/>
<line class="m" x1="1747.0" y1="792.0" x2="2021.0" y2="792.0"/>
<line class="m" x1="1883.0" y1="778.0" x2="1883.0" y2="792.0"/>
<line class="m" x1="1946.0" y1="778.0" x2="1946.0" y2="792.0"/>
<line class="d" x1="2020.0" y1="749.0" x2="2020.0" y2="792.0"/>
<line class="w" x1="1749.0" y1="625.0" x2="1749.0" y2="776.0"/>
<line class="d" x1="1755.0" y1="625.0" x2="1755.0" y2="776.0"/>
<line class="l" x1="1747.0" y1="625.0" x2="1757.0" y2="625.0"/>
<line class="m" x1="1757.0" y1="765.0" x2="1882.0" y2="765.0"/>
<line class="l" x1="1883.0" y1="625.0" x2="1883.0" y2="776.0"/>
<line class="m" x1="1889.0" y1="625.0" x2="1889.0" y2="776.0"/>
<rect class="m" x="1889.0" y="625.0" width="14.0" height="92.0"/>
<line class="l" x1="1886.0" y1="717.0" x2="1949.0" y2="717.0"/>
<line class="d" x1="1886.0" y1="721.0" x2="1949.0" y2="721.0"/>
<rect class="l" x="1889.0" y="721.0" width="59.0" height="55.0"/>
<line class="m" x1="1895.0" y1="721.0" x2="1895.0" y2="776.0"/>
<line class="m" x1="1895.0" y1="749.0" x2="1946.0" y2="749.0"/>
<polyline class="l" points="1897.0,729.0 1913.0,729.0 1913.0,742.0 1897.0,742.0"/>
<polyline class="l" points="1897.0,756.0 1913.0,756.0 1913.0,770.0 1897.0,770.0"/>
<line class="l" x1="1991.0" y1="572.0" x2="1991.0" y2="776.0"/>
<line class="w" x1="2005.0" y1="572.0" x2="2005.0" y2="728.0"/>
<line class="l" x1="1991.0" y1="729.0" x2="2005.0" y2="729.0"/>
<line class="m" x1="1991.0" y1="766.0" x2="2005.0" y2="766.0"/>
<line class="m" x1="1960.0" y1="778.0" x2="2010.0" y2="778.0"/>
<line class="m" x1="1960.0" y1="791.0" x2="2021.0" y2="791.0"/>
<line class="m" x1="2019.0" y1="749.0" x2="2019.0" y2="791.0"/>
<rect class="l" x="1589.0" y="617.0" width="14.0" height="10.0"/>
<rect class="t" x="1591.5" y="619.5" width="9.0" height="5.0"/>
<rect class="l" x="1589.0" y="654.0" width="14.0" height="9.0"/>
<rect class="t" x="1591.5" y="656.5" width="9.0" height="4.0"/>
<rect class="l" x="1607.0" y="617.0" width="14.0" height="10.0"/>
<rect class="t" x="1609.5" y="619.5" width="9.0" height="5.0"/>
<rect class="l" x="1607.0" y="654.0" width="14.0" height="9.0"/>
<rect class="t" x="1609.5" y="656.5" width="9.0" height="4.0"/>
<rect class="l" x="1625.0" y="617.0" width="14.0" height="10.0"/>
<rect class="t" x="1627.5" y="619.5" width="9.0" height="5.0"/>
<rect class="l" x="1625.0" y="654.0" width="14.0" height="9.0"/>
<rect class="t" x="1627.5" y="656.5" width="9.0" height="4.0"/>
<rect class="l" x="1643.0" y="617.0" width="14.0" height="10.0"/>
<rect class="t" x="1645.5" y="619.5" width="9.0" height="5.0"/>
<rect class="l" x="1643.0" y="654.0" width="14.0" height="9.0"/>
<rect class="t" x="1645.5" y="656.5" width="9.0" height="4.0"/>
<rect class="l" x="1577.0" y="683.0" width="14.0" height="10.0"/>
<rect class="t" x="1579.5" y="685.5" width="9.0" height="5.0"/>
<rect class="l" x="1577.0" y="720.0" width="14.0" height="11.0"/>
<rect class="t" x="1579.5" y="722.5" width="9.0" height="6.0"/>
<rect class="l" x="1595.0" y="683.0" width="14.0" height="10.0"/>
<rect class="t" x="1597.5" y="685.5" width="9.0" height="5.0"/>
<rect class="l" x="1595.0" y="720.0" width="14.0" height="11.0"/>
<rect class="t" x="1597.5" y="722.5" width="9.0" height="6.0"/>
<rect class="l" x="1613.0" y="683.0" width="14.0" height="10.0"/>
<rect class="t" x="1615.5" y="685.5" width="9.0" height="5.0"/>
<rect class="l" x="1613.0" y="720.0" width="14.0" height="11.0"/>
<rect class="t" x="1615.5" y="722.5" width="9.0" height="6.0"/>
<rect class="l" x="1631.0" y="683.0" width="15.0" height="10.0"/>
<rect class="t" x="1633.5" y="685.5" width="10.0" height="5.0"/>
<rect class="l" x="1631.0" y="720.0" width="15.0" height="11.0"/>
<rect class="t" x="1633.5" y="722.5" width="10.0" height="6.0"/>
<rect class="l" x="1721.0" y="649.0" width="10.0" height="14.0"/>
<rect class="t" x="1723.5" y="651.5" width="5.0" height="9.0"/>
<rect class="l" x="1721.0" y="667.0" width="10.0" height="15.0"/>
<rect class="t" x="1723.5" y="669.5" width="5.0" height="10.0"/>
<rect class="l" x="1721.0" y="685.0" width="10.0" height="15.0"/>
<rect class="t" x="1723.5" y="687.5" width="5.0" height="10.0"/>
<rect class="l" x="1721.0" y="704.0" width="10.0" height="15.0"/>
<rect class="t" x="1723.5" y="706.5" width="5.0" height="10.0"/>
<rect class="l" x="1501.0" y="755.0" width="15.0" height="10.0"/>
<rect class="t" x="1503.5" y="757.5" width="10.0" height="5.0"/>
<rect class="l" x="1520.0" y="755.0" width="15.0" height="10.0"/>
<rect class="t" x="1522.5" y="757.5" width="10.0" height="5.0"/>
<rect class="l" x="1539.0" y="755.0" width="14.0" height="10.0"/>
<rect class="t" x="1541.5" y="757.5" width="9.0" height="5.0"/>
<rect class="l" x="1557.0" y="755.0" width="15.0" height="10.0"/>
<rect class="t" x="1559.5" y="757.5" width="10.0" height="5.0"/>
<rect class="l" x="1577.0" y="755.0" width="16.0" height="10.0"/>
<rect class="t" x="1579.5" y="757.5" width="11.0" height="5.0"/>
<rect class="l" x="1595.0" y="755.0" width="16.0" height="10.0"/>
<rect class="t" x="1597.5" y="757.5" width="11.0" height="5.0"/>
<rect class="l" x="1614.0" y="755.0" width="15.0" height="10.0"/>
<rect class="t" x="1616.5" y="757.5" width="10.0" height="5.0"/>
<rect class="l" x="1633.0" y="755.0" width="16.0" height="10.0"/>
<rect class="t" x="1635.5" y="757.5" width="11.0" height="5.0"/>
<circle class="t" cx="1819.6" cy="647.0" r="5.5"/>
<circle class="t" cx="1819.6" cy="647.0" r="3.5"/>
<circle class="t" cx="1834.8" cy="649.2" r="5.5"/>
<circle class="t" cx="1834.8" cy="649.2" r="3.5"/>
<circle class="t" cx="1848.8" cy="655.6" r="5.5"/>
<circle class="t" cx="1848.8" cy="655.6" r="3.5"/>
<circle class="t" cx="1860.4" cy="665.6" r="5.5"/>
<circle class="t" cx="1860.4" cy="665.6" r="3.5"/>
<circle class="t" cx="1868.7" cy="678.6" r="5.5"/>
<circle class="t" cx="1868.7" cy="678.6" r="3.5"/>
<circle class="t" cx="1873.1" cy="693.3" r="5.5"/>
<circle class="t" cx="1873.1" cy="693.3" r="3.5"/>
<circle class="t" cx="1873.1" cy="708.7" r="5.5"/>
<circle class="t" cx="1873.1" cy="708.7" r="3.5"/>
<circle class="t" cx="1868.7" cy="723.4" r="5.5"/>
<circle class="t" cx="1868.7" cy="723.4" r="3.5"/>
<circle class="t" cx="1860.4" cy="736.4" r="5.5"/>
<circle class="t" cx="1860.4" cy="736.4" r="3.5"/>
<circle class="t" cx="1848.8" cy="746.4" r="5.5"/>
<circle class="t" cx="1848.8" cy="746.4" r="3.5"/>
<circle class="t" cx="1834.8" cy="752.8" r="5.5"/>
<circle class="t" cx="1834.8" cy="752.8" r="3.5"/>
<circle class="t" cx="1819.6" cy="755.0" r="5.5"/>
<circle class="t" cx="1819.6" cy="755.0" r="3.5"/>
<circle class="t" cx="1804.4" cy="752.8" r="5.5"/>
<circle class="t" cx="1804.4" cy="752.8" r="3.5"/>
<circle class="t" cx="1790.4" cy="746.4" r="5.5"/>
<circle class="t" cx="1790.4" cy="746.4" r="3.5"/>
<circle class="t" cx="1778.8" cy="736.4" r="5.5"/>
<circle class="t" cx="1778.8" cy="736.4" r="3.5"/>
<circle class="t" cx="1770.5" cy="723.4" r="5.5"/>
<circle class="t" cx="1770.5" cy="723.4" r="3.5"/>
<circle class="t" cx="1766.1" cy="708.7" r="5.5"/>
<circle class="t" cx="1766.1" cy="708.7" r="3.5"/>
<circle class="t" cx="1766.1" cy="693.3" r="5.5"/>
<circle class="t" cx="1766.1" cy="693.3" r="3.5"/>
<circle class="t" cx="1770.5" cy="678.6" r="5.5"/>
<circle class="t" cx="1770.5" cy="678.6" r="3.5"/>
<circle class="t" cx="1778.8" cy="665.6" r="5.5"/>
<circle class="t" cx="1778.8" cy="665.6" r="3.5"/>
<circle class="t" cx="1790.4" cy="655.6" r="5.5"/>
<circle class="t" cx="1790.4" cy="655.6" r="3.5"/>
<circle class="t" cx="1804.4" cy="649.2" r="5.5"/>
<circle class="t" cx="1804.4" cy="649.2" r="3.5"/>
<line class="l" x1="1573.0" y1="556.0" x2="1573.0" y2="572.0"/>
<line class="l" x1="1582.0" y1="556.0" x2="1582.0" y2="572.0"/>
<line class="m" x1="1592.0" y1="556.0" x2="1592.0" y2="572.0"/>
<line class="m" x1="1601.0" y1="556.0" x2="1601.0" y2="572.0"/>
<line class="m" x1="1611.0" y1="556.0" x2="1611.0" y2="572.0"/>
<line class="l" x1="1620.0" y1="556.0" x2="1620.0" y2="572.0"/>
<line class="l" x1="1629.0" y1="556.0" x2="1629.0" y2="572.0"/>
<line class="l" x1="1649.0" y1="556.0" x2="1649.0" y2="572.0"/>
<line class="l" x1="1669.0" y1="556.0" x2="1669.0" y2="572.0"/>
<line class="m" x1="1689.0" y1="556.0" x2="1689.0" y2="572.0"/>
<line class="l" x1="1707.0" y1="556.0" x2="1707.0" y2="572.0"/>
<line class="l" x1="1727.0" y1="556.0" x2="1727.0" y2="572.0"/>
<line class="l" x1="1749.0" y1="556.0" x2="1749.0" y2="572.0"/>
<line class="l" x1="1753.0" y1="556.0" x2="1753.0" y2="572.0"/>
<line class="l" x1="1777.0" y1="556.0" x2="1777.0" y2="572.0"/>
<line class="l" x1="1800.0" y1="556.0" x2="1800.0" y2="572.0"/>
<line class="l" x1="1818.0" y1="556.0" x2="1818.0" y2="572.0"/>
<line class="l" x1="1836.0" y1="556.0" x2="1836.0" y2="572.0"/>
<line class="l" x1="1855.0" y1="556.0" x2="1855.0" y2="572.0"/>
<line class="l" x1="1874.0" y1="556.0" x2="1874.0" y2="572.0"/>
<line class="l" x1="1893.0" y1="556.0" x2="1893.0" y2="572.0"/>
<line class="l" x1="1910.0" y1="556.0" x2="1910.0" y2="572.0"/>
<line class="l" x1="2021.0" y1="651.0" x2="2086.0" y2="651.0"/>
<line class="l" x1="2021.0" y1="660.0" x2="2086.0" y2="660.0"/>
<line class="l" x1="2021.0" y1="670.0" x2="2086.0" y2="670.0"/>
<line class="l" x1="2021.0" y1="678.0" x2="2086.0" y2="678.0"/>
<line class="l" x1="2021.0" y1="688.0" x2="2086.0" y2="688.0"/>
<line class="l" x1="2021.0" y1="697.5" x2="2086.0" y2="697.5"/>
<line class="l" x1="2099.0" y1="633.0" x2="2166.0" y2="633.0"/>
<line class="l" x1="2099.0" y1="641.5" x2="2166.0" y2="641.5"/>
<line class="l" x1="2099.0" y1="651.0" x2="2166.0" y2="651.0"/>
<line class="m" x1="2099.0" y1="660.0" x2="2166.0" y2="660.0"/>
<line class="l" x1="2099.0" y1="669.0" x2="2166.0" y2="669.0"/>
<line class="l" x1="2099.0" y1="679.0" x2="2166.0" y2="679.0"/>
<line class="l" x1="2099.0" y1="688.0" x2="2166.0" y2="688.0"/>
<line class="l" x1="2099.0" y1="696.0" x2="2166.0" y2="696.0"/>
<rect x="2087" y="631" width="12" height="67" fill="#222" stroke="#5a5a5a" stroke-width="1.5"/>
<line class="t" x1="2098.0" y1="696.0" x2="2177.0" y2="649.0"/>
<line class="t" x1="2100.0" y1="699.0" x2="2178.0" y2="652.0"/>
<line class="m" x1="2167.0" y1="631.0" x2="2167.0" y2="740.0"/>
<line class="l dash" x1="2175.0" y1="631.0" x2="2175.0" y2="749.0"/>
<line class="l" x1="2160.0" y1="631.0" x2="2177.0" y2="631.0"/>
<line class="l dash" x1="2021.0" y1="740.0" x2="2167.0" y2="740.0"/>
<line class="l dash" x1="2005.0" y1="749.0" x2="2176.0" y2="749.0"/>
<line class="m" x1="1207.0" y1="766.0" x2="1471.0" y2="766.0"/>
<line class="d" x1="1207.0" y1="769.0" x2="1471.0" y2="769.0"/>
<line class="w" x1="1218.0" y1="779.0" x2="1471.0" y2="779.0"/>
<rect class="m" x="1199.0" y="770.0" width="18.0" height="11.0"/>
<line class="l dash" x1="1214.0" y1="825.0" x2="1471.0" y2="825.0"/>
<line class="w" x1="1213.0" y1="781.0" x2="1213.0" y2="952.0"/>
<line class="d" x1="1797.0" y1="77.0" x2="1846.0" y2="77.0"/>
<rect class="l" x="1205.0" y="655.0" width="12.0" height="12.0"/>
<rect class="l" x="1504.0" y="651.0" width="6.0" height="14.0"/>
</svg></body></html>
